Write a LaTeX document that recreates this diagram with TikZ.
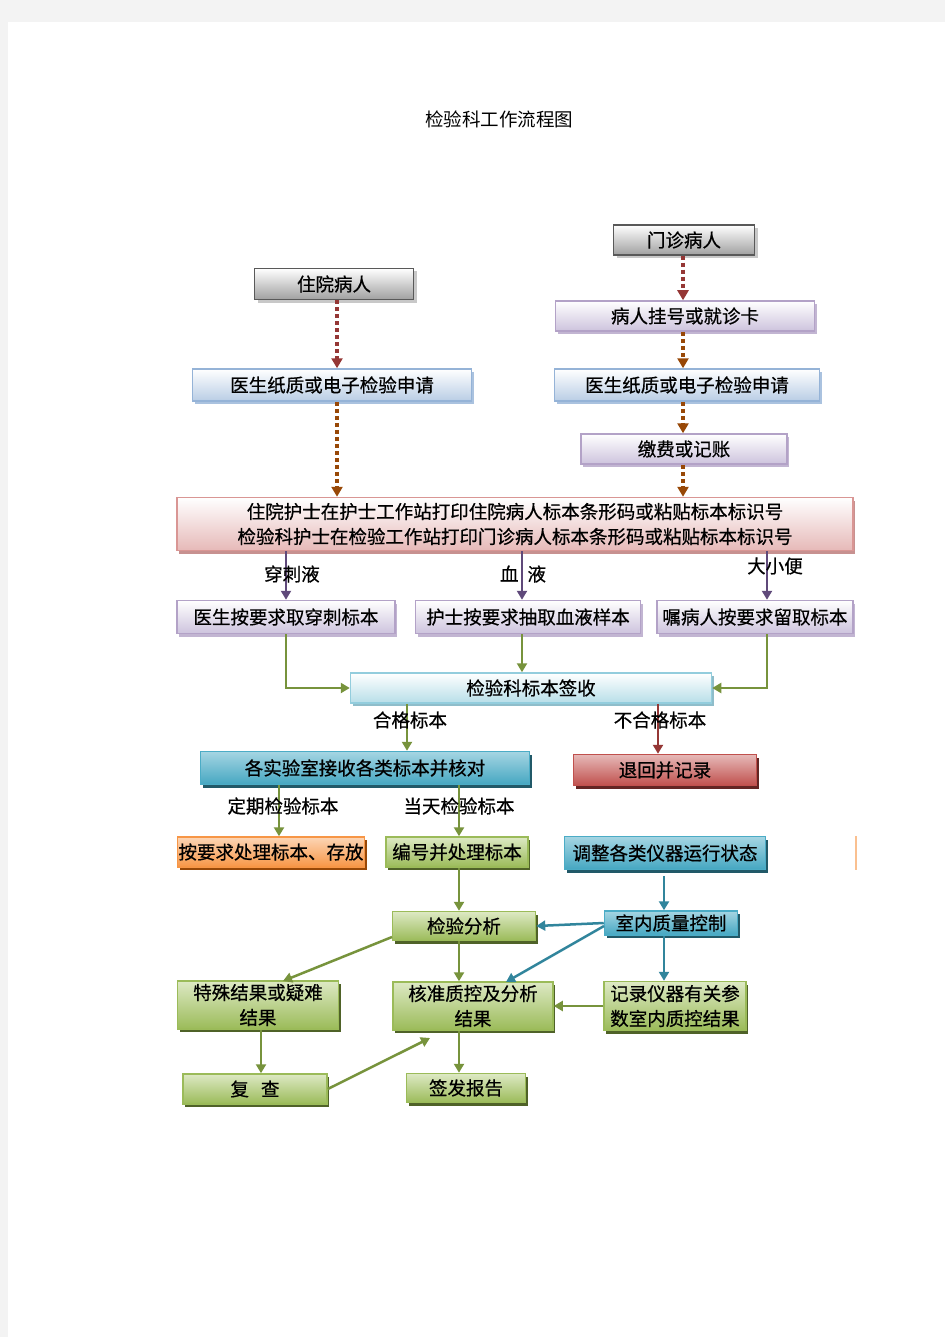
\documentclass[tikz,border=0pt]{standalone}
\usepackage{fontspec}
\newfontfamily\cjk{Noto Sans CJK SC}
\newfontfamily\cjkb{Noto Sans CJK SC}[FakeBold=0.6]
\usetikzlibrary{arrows.meta,shadows,calc}
\definecolor{pagegray}{HTML}{F3F3F3}
\definecolor{lnred}{HTML}{953735}
\definecolor{lnbrown}{HTML}{984807}
\definecolor{lnpurple}{HTML}{5F497A}
\definecolor{lngreen}{HTML}{77933C}
\definecolor{lnblue}{HTML}{31859C}
\definecolor{gyD}{HTML}{595959}
\definecolor{gyB}{HTML}{A0A0A0}
\definecolor{gyS}{HTML}{C8C8C8}
\definecolor{lvD}{HTML}{B3A2C7}
\definecolor{lvB}{HTML}{CDC3DD}
\definecolor{lbD}{HTML}{95B3D7}
\definecolor{lbB}{HTML}{B9CDE5}
\definecolor{pkD}{HTML}{D99694}
\definecolor{pkB}{HTML}{E6B9B8}
\definecolor{cyD}{HTML}{93CDDD}
\definecolor{cyB}{HTML}{B7DEE8}
\definecolor{buD}{HTML}{4BACC6}
\definecolor{buT}{HTML}{A5D5E2}
\definecolor{buB}{HTML}{45A7C2}
\definecolor{buS}{HTML}{215968}
\definecolor{rdD}{HTML}{C0504D}
\definecolor{rdT}{HTML}{E6B9B8}
\definecolor{rdS}{HTML}{632523}
\definecolor{orD}{HTML}{F79646}
\definecolor{orT}{HTML}{FCD5B5}
\definecolor{orS}{HTML}{984807}
\definecolor{grD}{HTML}{9BBB59}
\definecolor{grT}{HTML}{DDE9C4}
\definecolor{grB}{HTML}{9BBB59}
\definecolor{grS}{HTML}{4F6228}
\definecolor{orstub}{HTML}{FAC090}
\tikzset{
  bx/.style={line width=1.5pt, inner sep=0pt, align=center,
    font=\cjkb\fontsize{18.5}{25}\selectfont},
  grayb/.style={bx, draw=gyD, top color=white, bottom color=gyB,
    drop shadow={shadow xshift=3pt, shadow yshift=-3pt, fill=gyS, opacity=1}},
  lavb/.style={bx, draw=lvD, top color=white, bottom color=lvB,
    drop shadow={shadow xshift=2pt, shadow yshift=-3pt, fill=lvD!80, opacity=1}},
  ltbb/.style={bx, draw=lbD, top color=white, bottom color=lbB,
    drop shadow={shadow xshift=2pt, shadow yshift=-3pt, fill=lbD!80, opacity=1}},
  pinkb/.style={bx, draw=pkD, top color=white, bottom color=pkB,
    drop shadow={shadow xshift=2pt, shadow yshift=-3pt, fill=pkD!80!gray, opacity=1}},
  cyanb/.style={bx, draw=cyD, top color=white, bottom color=cyB,
    drop shadow={shadow xshift=2pt, shadow yshift=-3pt, fill=cyD!80!gray, opacity=1}},
  blueb/.style={bx, draw=buD, top color=buT, bottom color=buB,
    drop shadow={shadow xshift=2pt, shadow yshift=-3pt, fill=buS, opacity=1}},
  redb/.style={bx, draw=rdD, top color=rdT, bottom color=rdD,
    drop shadow={shadow xshift=2pt, shadow yshift=-3pt, fill=rdS, opacity=1}},
  orangeb/.style={bx, draw=orD, top color=orT, bottom color=orD,
    drop shadow={shadow xshift=2pt, shadow yshift=-3pt, fill=orS, opacity=1}},
  greenb/.style={bx, draw=grD, top color=grT, bottom color=grB,
    drop shadow={shadow xshift=2pt, shadow yshift=-3pt, fill=grS, opacity=1}},
  lbl/.style={inner sep=0pt, font=\cjkb\fontsize{18.5}{25}\selectfont},
  dotred/.style={draw=lnred, line width=3.2pt, dash pattern=on 4pt off 3pt,
    -{Triangle[width=11pt,length=10pt]}, color=lnred},
  dotbrown/.style={draw=lnbrown, line width=3.2pt, dash pattern=on 4pt off 3pt,
    -{Triangle[width=11pt,length=10pt]}, color=lnbrown},
  solidln/.style={line width=2.5pt, -{Triangle[width=10pt,length=9pt]}},
  purln/.style={solidln, draw=lnpurple, color=lnpurple},
  grnln/.style={solidln, draw=lngreen, color=lngreen},
  bluln/.style={solidln, draw=lnblue, color=lnblue},
  redln/.style={solidln, draw=lnred, color=lnred},
}
\begin{document}
\begin{tikzpicture}[x=1pt,y=-1pt]
\fill[pagegray] (0,0) rectangle (945,1337);
\fill[white] (8,22) rectangle (945,1337);
\useasboundingbox (0,0) rectangle (945,1337);

% title
\node[inner sep=0pt, font=\cjk\fontsize{18.5}{22}\selectfont] (title) at (499,119) {检验科工作流程图};

% column coordinates
\coordinate (xL) at (337,0);
\coordinate (xR) at (683,0);
\coordinate (x1) at (286,0);
\coordinate (x2) at (522,0);
\coordinate (x3) at (767,0);
\coordinate (xq) at (407,0);
\coordinate (xt) at (658,0);
\coordinate (xd) at (279,0);
\coordinate (xb) at (459,0);
\coordinate (xs) at (664,0);
\coordinate (xf) at (261,0);

% nodes
\node[grayb, minimum width=141pt, minimum height=30pt] (mz) at (684,240) {门诊病人};
\node[grayb, minimum width=159pt, minimum height=31pt] (zy) at (334,284) {住院病人};
\node[lavb, minimum width=259pt, minimum height=30pt] (gh) at (685,316) {病人挂号或就诊卡};
\node[ltbb, minimum width=279pt, minimum height=32pt] (sqL) at (332,385) {医生纸质或电子检验申请};
\node[ltbb, minimum width=265pt, minimum height=32pt] (sqR) at (687,385) {医生纸质或电子检验申请};
\node[lavb, minimum width=206pt, minimum height=30pt] (jf) at (684,449) {缴费或记账};
\node[pinkb, minimum width=676pt, minimum height=53pt] (pk) at (515,524)
  {住院护士在护士工作站打印住院病人标本条形码或粘贴标本标识号\\检验科护士在检验工作站打印门诊病人标本条形码或粘贴标本标识号};
\node[lavb, minimum width=218pt, minimum height=33pt] (s1) at (286,617) {医生按要求取穿刺标本};
\node[lavb, minimum width=225pt, minimum height=33pt] (s2) at (528,617) {护士按要求抽取血液样本};
\node[lavb, minimum width=196pt, minimum height=33pt] (s3) at (755,617) {嘱病人按要求留取标本};
\node[cyanb, minimum width=361pt, minimum height=30pt] (qs) at (531,688) {检验科标本签收};
\node[blueb, minimum width=329pt, minimum height=33pt] (sy) at (365,768) {各实验室接收各类标本并核对};
\node[redb, minimum width=183pt, minimum height=31pt] (th) at (665,770) {退回并记录};
\node[orangeb, minimum width=187pt, minimum height=30pt] (cl) at (271,852) {按要求处理标本、存放};
\node[greenb, minimum width=142pt, minimum height=30pt] (bh) at (457,852) {编号并处理标本};
\node[blueb, minimum width=201pt, minimum height=33pt] (tz) at (665,853) {调整各类仪器运行状态};
\node[greenb, minimum width=143pt, minimum height=29pt] (fx) at (464,926) {检验分析};
\node[blueb, minimum width=133pt, minimum height=24pt] (sn) at (671,923) {室内质量控制};
\node[greenb, minimum width=161pt, minimum height=48pt] (ts) at (258,1005) {特殊结果或疑难\\结果};
\node[greenb, minimum width=160pt, minimum height=48pt] (hz) at (473,1006) {核准质控及分析\\结果};
\node[greenb, minimum width=142pt, minimum height=49pt] (jl) at (675,1006) {记录仪器有关参\\数室内质控结果};
\node[greenb, minimum width=144pt, minimum height=30pt] (fc) at (255,1089) {复\hspace{12pt}查};
\node[greenb, minimum width=119pt, minimum height=29pt] (qf) at (466,1088) {签发报告};

% stub at right edge
\draw[orstub, line width=2pt] (856,836) -- (856,870);

% top dotted connectors
\draw[dotred] (mz.south -| xR) -- (gh.north -| xR);
\draw[dotred] (zy.south -| xL) -- (sqL.north -| xL);
\draw[dotbrown] (gh.south -| xR) -- (sqR.north -| xR);
\draw[dotbrown] (sqR.south -| xR) -- (jf.north -| xR);
\draw[dotbrown] (jf.south -| xR) -- (pk.north -| xR);
\draw[dotbrown] (sqL.south -| xL) -- (pk.north -| xL);

% purple branch connectors
\draw[purln] (pk.south -| x1) -- (s1.north -| x1);
\draw[purln] (pk.south -| x2) -- (s2.north -| x2);
\draw[purln] (pk.south -| x3) -- (s3.north -| x3);

% to sign-in
\draw[grnln] (s1.south -| x1) |- (qs.west);
\draw[grnln] (s2.south -| x2) -- (qs.north -| x2);
\draw[grnln] (s3.south -| x3) |- (qs.east);

% qualified / unqualified
\draw[grnln] (qs.south -| xq) -- (sy.north -| xq);
\draw[redln] (qs.south -| xt) -- (th.north -| xt);

% labs
\draw[grnln] (sy.south -| xd) -- (cl.north -| xd);
\draw[grnln] (sy.south -| xb) -- (bh.north -| xb);
\draw[grnln] (bh.south -| xb) -- (fx.north -| xb);

% QC
\coordinate (tzb) at (664,876);
\draw[bluln] (tzb) -- (sn.north -| xs);
\draw[bluln] (sn.west) -- (fx.east);
\coordinate (snw) at (604,926);
\coordinate (hzt) at (506,982);
\draw[bluln] (snw) -- (hzt);
\draw[bluln] (sn.south -| xs) -- (jl.north -| xs);

% analysis
\coordinate (fxw) at (392,937);
\coordinate (tst) at (283,981);
\draw[grnln] (fxw) -- (tst);
\draw[grnln] (fx.south -| xb) -- (hz.north -| xb);
\draw[grnln] (jl.west) -- (jl.west -| hz.east);
\draw[grnln] (ts.south -| xf) -- (fc.north -| xf);
\coordinate (hzb) at (430,1038);
\draw[grnln] (fc.east) -- (hzb);
\draw[grnln] (hz.south -| xb) -- (qf.north -| xb);

% labels
\node[lbl] (l1) at (292,574) {穿刺液};
\node[lbl] (l2) at (523,574) {血\hspace{9pt}液};
\node[lbl] (l3) at (775,566) {大小便};
\node[lbl] (l4) at (410,720) {合格标本};
\node[lbl] (l5) at (660,720) {不合格标本};
\node[lbl] (l6) at (283,806) {定期检验标本};
\node[lbl] (l7) at (459,806) {当天检验标本};
\end{tikzpicture}
\end{document}
